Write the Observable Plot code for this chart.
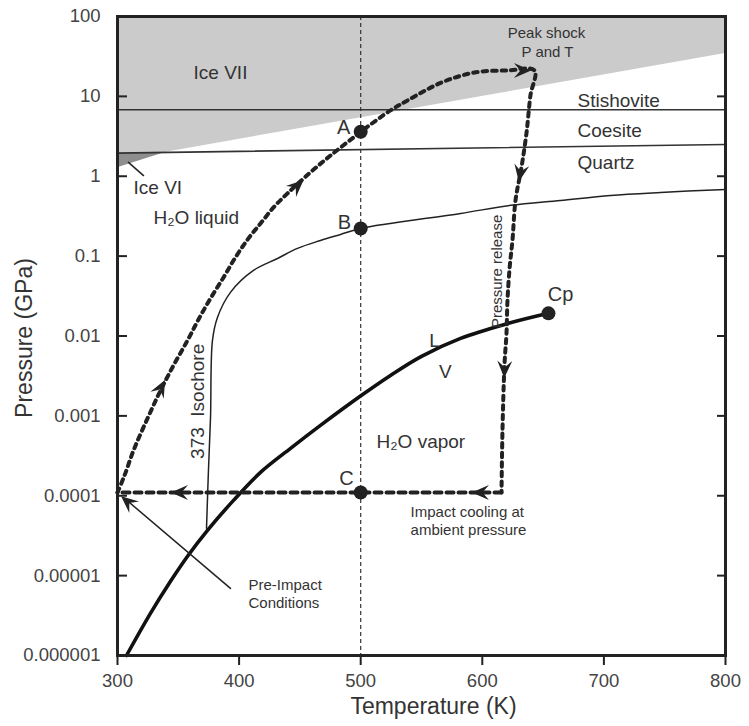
<!DOCTYPE html>
<html><head><meta charset="utf-8">
<script src="https://cdn.jsdelivr.net/npm/d3@7"></script>
<script src="https://cdn.jsdelivr.net/npm/@observablehq/plot@0.6"></script>
<style>html,body{margin:0;padding:0;background:#fff}svg{display:block}</style>
</head><body><div id="chart"></div>
<script>
// ---------- data ----------
const xTicks = [300, 400, 500, 600, 700, 800];
const yTicks = [1e-6, 1e-5, 1e-4, 1e-3, 1e-2, 1e-1, 1, 10, 100];
const yTickLabels = ["0.000001","0.00001","0.0001","0.001","0.01","0.1","1","10","100"];

const iceVII = [{T:300, lo:1.95, hi:100},{T:340, lo:2.0, hi:100},{T:800, lo:34.4, hi:100}];
const iceVI = [{T:300, lo:1.28, hi:1.95},{T:340, lo:2.0, hi:2.0}];
const stishoviteCoesite = [{T:300, P:6.8},{T:800, P:6.8}];
const coesiteQuartz = [{T:300, P:1.95},{T:800, P:2.5}];
const tRef = [500];

const liquidVapor = [
  {T:307.4,P:1e-6},{T:327.1,P:3.37e-6},{T:343.6,P:8.49e-6},{T:357.6,P:1.75e-5},
  {T:374.0,P:3.69e-5},{T:395.4,P:8.75e-5},{T:417.6,P:1.96e-4},{T:442.3,P:3.92e-4},
  {T:466.9,P:7.6e-4},{T:500.7,P:1.81e-3},{T:524.5,P:3.21e-3},{T:550,P:5.56e-3},
  {T:582.1,P:9.33e-3},{T:618.3,P:0.01396},{T:654.4,P:0.0192}
];
const isochore = [
  {T:373.2,P:3.91e-5},{T:374.8,P:2.08e-4},{T:376.5,P:9.57e-4},{T:378.1,P:8.81e-3},
  {T:382.2,P:0.0171},{T:392.9,P:0.0352},{T:411.8,P:0.0662},{T:431.6,P:0.0935},
  {T:448,P:0.125},{T:466.9,P:0.157},{T:483.4,P:0.187},{T:500,P:0.222},
  {T:582.1,P:0.342},{T:623.2,P:0.432},{T:664.3,P:0.498},{T:705.4,P:0.575},
  {T:746.5,P:0.627},{T:800,P:0.684}
];
const shockPath = [
  {T:300,P:1.1e-4},{T:305.8,P:1.8e-4},{T:313.2,P:3.7e-4},{T:324.7,P:9.31e-4},
  {T:335.4,P:2.08e-3},{T:346.1,P:4.29e-3},{T:357.6,P:8.81e-3},{T:366.6,P:0.0161},
  {T:376.5,P:0.0296},{T:387.2,P:0.0541},{T:397,P:0.0964},{T:407.7,P:0.167},
  {T:417.6,P:0.256},{T:428.3,P:0.407},{T:439.8,P:0.61},{T:458.7,P:1.12},
  {T:475.2,P:1.82},{T:494.1,P:3.06},{T:500,P:3.6},{T:524.5,P:6.67},
  {T:538.5,P:8.89},{T:566.4,P:14.9},{T:593.6,P:19.9},{T:620.7,P:21.1},
  {T:642.9,P:21.1},
  {T:639.6,P:10.3},{T:636.3,P:3.44},{T:632.2,P:1.29},{T:627.3,P:0.498},
  {T:624.8,P:0.157},{T:622.5,P:0.0723},{T:620.7,P:0.0279},{T:619.9,P:0.0108},
  {T:618.3,P:4.54e-3},{T:616.6,P:6.58e-4},{T:615.8,P:1.1e-4}
];
const coolingPath = [{T:615.8,P:1.1e-4},{T:300,P:1.1e-4}];
const preImpactPointer = [{T:392.9,P:6.93e-6},{T:305.8,P:9.27e-5}];
const iceVIPointer = [{T:309,P:1.49},{T:321.4,P:1.02}];

const points = [{T:500,P:3.6},{T:500,P:0.222},{T:500,P:1.1e-4},{T:654.4,P:0.0192}];
const arrowHeads = [
  {T:335.4,P:2.2e-3,on:"shock"},{T:447.2,P:0.745,on:"shock"},{T:632.2,P:21.1,on:"shock"},
  {T:631.4,P:1.12,on:"shock"},{T:618.3,P:3.94e-3,on:"shock"},{T:599.3,P:1.1e-4,on:"shock"},
  {T:351.8,P:1.1e-4,on:"shock"},{T:309,P:8.26e-5,on:"pointer"}
];

const fieldLabels = [
  {text:"Stishovite",T:678.3,P:8.9},{text:"Coesite",T:678.3,P:3.74},{text:"Quartz",T:678.3,P:1.49},
  {text:"Ice VI",T:313.2,P:0.724},{text:"H₂O liquid",T:329.6,P:0.305},{text:"H₂O vapor",T:513,P:4.66e-4}
];
const iceVIILabel = [{text:"Ice VII",T:384.7,P:19.9}];
const pointLabels = [{text:"A",T:485.9,P:4.08},{text:"B",T:486.7,P:0.26},{text:"C",T:488.3,P:1.65e-4},{text:"Cp",T:664.3,P:0.0332}];
const lvLabels = [{text:"L",T:560.7,P:0.0088},{text:"V",T:569.7,P:0.0036}];
const noteLabels = [
  {text:"Impact cooling at",T:541,P:6.19e-5},{text:"ambient pressure",T:541,P:3.69e-5},
  {text:"Pre-Impact",T:407.7,P:7.57e-6},{text:"Conditions",T:407.7,P:4.5e-6}
];
const peakLabels = [{text:"Peak shock",T:652.8,P:61.2},{text:"P and T",T:653.6,P:35.4}];
const releaseLabel = [{text:"Pressure release",T:612.5,P:0.0644}];
const isochoreLabel = [{text:"373\u00a0\u00a0Isochore",T:365.8,P:0.00152}];
const xTitle = ["Temperature (K)"];
const yTitle = ["Pressure (GPa)"];

// ---------- layout ----------
const W = 749, H = 726;
const M = {left:117, right:24, top:16, bottom:71};
const frameW = W - M.left - M.right;
const xs = d3.scaleLinear([300, 800], [M.left, W - M.right]);
const ys = d3.scaleLog([1e-6, 100], [H - M.bottom, M.top]);

function heading(pt, line) {
  const px = xs(pt.T), py = ys(pt.P);
  let best = Infinity, ang = 0;
  for (let i = 0; i < line.length - 1; i++) {
    const ax = xs(line[i].T), ay = ys(line[i].P), bx = xs(line[i+1].T), by = ys(line[i+1].P);
    const dx = bx - ax, dy = by - ay, l2 = dx*dx + dy*dy || 1;
    let t = ((px - ax)*dx + (py - ay)*dy) / l2; t = Math.max(0, Math.min(1, t));
    const d = Math.hypot(ax + t*dx - px, ay + t*dy - py);
    if (d < best) { best = d; ang = Math.atan2(dx, -dy) * 180 / Math.PI; }
  }
  return ang;
}
const shockAll = shockPath.concat(coolingPath.slice(1));
const arrows = arrowHeads.map(a => ({...a, angle: heading(a, a.on === "shock" ? shockAll : preImpactPointer)}));

const stealth = {
  draw(ctx, size) {
    const k = Math.sqrt(size / Math.PI) / 7;
    ctx.moveTo(0, -9*k); ctx.lineTo(7*k, 7*k); ctx.lineTo(0, 1*k); ctx.lineTo(-7*k, 7*k); ctx.closePath();
  }
};
const yLabelOf = d => yTickLabels[yTicks.findIndex(t => Math.abs(Math.log10(t) - Math.log10(d)) < 1e-6)];

const ink = "#222", txt = "#333";
const plot = Plot.plot({
  width: W, height: H,
  marginLeft: M.left, marginRight: M.right, marginTop: M.top, marginBottom: M.bottom,
  x: {domain: [300, 800]},
  y: {type: "log", domain: [1e-6, 100], axis: null},
  style: {fontFamily: "'Liberation Sans', Arial, sans-serif", background: "#fff"},
  marks: [
    Plot.areaY(iceVII, {x: "T", y1: "lo", y2: "hi", fill: "#cbcbcb"}),
    Plot.areaY(iceVI, {x: "T", y1: "lo", y2: "hi", fill: "#8e8e8e"}),
    Plot.line(stishoviteCoesite, {x: "T", y: "P", stroke: "#333", strokeWidth: 1.6}),
    Plot.line(coesiteQuartz, {x: "T", y: "P", stroke: "#333", strokeWidth: 1.6}),
    Plot.ruleX(tRef, {stroke: "#333", strokeWidth: 1.2, strokeDasharray: "4,3"}),
    Plot.line(isochore, {x: "T", y: "P", stroke: ink, strokeWidth: 1.5, curve: "catmull-rom"}),
    Plot.line(liquidVapor, {x: "T", y: "P", stroke: "#111", strokeWidth: 3.6, curve: "catmull-rom"}),
    Plot.line(shockPath, {x: "T", y: "P", stroke: ink, strokeWidth: 4, strokeDasharray: "4.5,5", curve: "catmull-rom"}),
    Plot.line(coolingPath, {x: "T", y: "P", stroke: ink, strokeWidth: 4, strokeDasharray: "7,5"}),
    Plot.line(preImpactPointer, {x: "T", y: "P", stroke: ink, strokeWidth: 1.5}),
    Plot.line(iceVIPointer, {x: "T", y: "P", stroke: ink, strokeWidth: 1.5}),
    Plot.dot(arrows, {x: "T", y: "P", symbol: stealth, r: 7.5, fill: ink, stroke: "none", rotate: "angle"}),
    Plot.dot(points, {x: "T", y: "P", r: 7, fill: ink}),
    Plot.text(iceVIILabel, {x: "T", y: "P", text: "text", fontSize: 19, fill: txt}),
    Plot.text(fieldLabels, {x: "T", y: "P", text: "text", fontSize: 19, fill: txt, textAnchor: "start"}),
    Plot.text(pointLabels, {x: "T", y: "P", text: "text", fontSize: 20, fill: txt}),
    Plot.text(lvLabels, {x: "T", y: "P", text: "text", fontSize: 19, fill: txt}),
    Plot.text(noteLabels, {x: "T", y: "P", text: "text", fontSize: 15, fill: txt, textAnchor: "start"}),
    Plot.text(peakLabels, {x: "T", y: "P", text: "text", fontSize: 15, fill: txt}),
    Plot.text(releaseLabel, {x: "T", y: "P", text: "text", fontSize: 15, fill: txt, rotate: -90}),
    Plot.text(isochoreLabel, {x: "T", y: "P", text: "text", fontSize: 19, fill: txt, rotate: -90}),
    Plot.ruleY(yTicks, {stroke: ink, strokeWidth: 2, insetRight: frameW - 10}),
    Plot.ruleY(yTicks, {stroke: ink, strokeWidth: 2, insetLeft: frameW - 8}),
    Plot.text(yTicks, {frameAnchor: "left", y: d => d, text: yLabelOf, dx: -17, textAnchor: "end", fontSize: 18.5, fill: "#444"}),
    Plot.axisX({ticks: xTicks, tickSize: 10, tickPadding: 8, fontSize: 18.5, stroke: ink, fill: "#444", strokeWidth: 2, label: null}),
    Plot.text(yTitle, {frameAnchor: "left", dx: -93, dy: 2, rotate: -90, textAnchor: "middle", lineAnchor: "middle", fontSize: 23, fill: txt}),
    Plot.text(xTitle, {frameAnchor: "bottom", dx: 12, dy: 51, textAnchor: "middle", lineAnchor: "middle", fontSize: 23, fill: txt}),
    Plot.frame({stroke: ink, strokeWidth: 3})
  ]
});
document.getElementById("chart").appendChild(plot);
</script></body></html>
